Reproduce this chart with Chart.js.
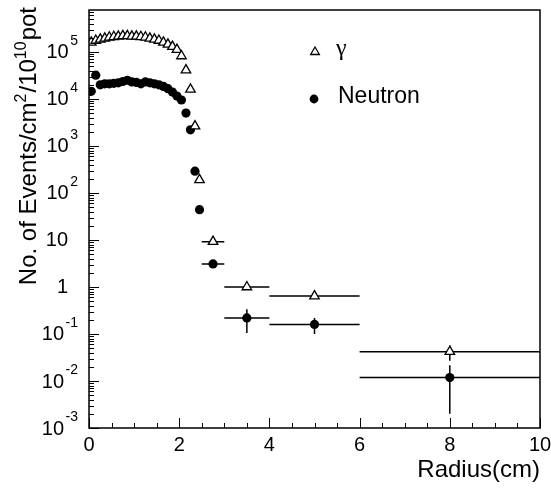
<!DOCTYPE html>
<html>
<head>
<meta charset="utf-8">
<script src="https://cdn.jsdelivr.net/npm/chart.js@4.4.1/dist/chart.umd.min.js"></script>
<style>
  body { margin: 0; background: #fff; }
  canvas { display: block; }
</style>
</head>
<body>
<canvas id="radiusplot" width="551" height="488"></canvas>
<script>
// bin centres and half widths (cm)
const radius = [0.05, 0.15, 0.25, 0.35, 0.45, 0.55, 0.65, 0.75, 0.85, 0.95,
                1.05, 1.15, 1.25, 1.35, 1.45, 1.55, 1.65, 1.75, 1.85, 1.95,
                2.05, 2.15, 2.25, 2.35, 2.45, 2.75, 3.5, 5.0, 8.0];
const radiusHalfWidth = [0.05, 0.05, 0.05, 0.05, 0.05, 0.05, 0.05, 0.05, 0.05, 0.05,
                         0.05, 0.05, 0.05, 0.05, 0.05, 0.05, 0.05, 0.05, 0.05, 0.05,
                         0.05, 0.05, 0.05, 0.05, 0.05, 0.25, 0.5, 1.0, 2.0];

// events / cm2 / 1e10 pot
const gammaRate = [1.6e5, 1.75e5, 1.85e5, 1.95e5, 2.05e5, 2.1e5, 2.15e5, 2.2e5, 2.2e5, 2.15e5,
                   2.15e5, 2.1e5, 2.05e5, 1.95e5, 1.85e5, 1.75e5, 1.6e5, 1.45e5, 1.3e5, 1.12e5,
                   8.2e4, 4.1e4, 1.6e4, 2.65e3, 1.9e2, 9.2, 1.0, 0.64, 0.042];
const gammaErr = [0, 0, 0, 0, 0, 0, 0, 0, 0, 0,
                  0, 0, 0, 0, 0, 0, 0, 0, 0, 0,
                  0, 0, 0, 0, 0, 0.6, 0.1, 0.05, 0.015];
const neutronRate = [1.45e4, 3.2e4, 2.0e4, 2.1e4, 2.1e4, 2.15e4, 2.2e4, 2.35e4, 2.5e4, 2.3e4,
                     2.25e4, 2.1e4, 2.3e4, 2.2e4, 2.1e4, 2.0e4, 1.85e4, 1.65e4, 1.4e4, 1.15e4,
                     9.5e3, 5.0e3, 2.2e3, 2.9e2, 44, 3.1, 0.22, 0.16, 0.0118];
const neutronErr = [0, 0, 0, 0, 0, 0, 0, 0, 0, 0,
                    0, 0, 0, 0, 0, 0, 0, 0, 0, 0,
                    0, 0, 0, 0, 0, 0.5, 0.115, 0.06, 0.0098];

const xTickLabels = [0, 2, 4, 6, 8, 10];
const yTickPowers = [5, 4, 3, 2, 1, 0, -1, -2, -3];

const font = '"Liberation Sans", Arial, sans-serif';

function points(rates, errs) {
  return radius.map((r, i) => ({ x: r, y: rates[i], xe: radiusHalfWidth[i], ye: errs[i] }));
}

// ROOT-like frame, inner ticks, 10^n labels and error bars
const rootStyle = {
  id: 'rootStyle',
  beforeDatasetsDraw(chart) {
    const ctx = chart.ctx, xs = chart.scales.x, ys = chart.scales.y;
    ctx.save();
    ctx.strokeStyle = '#000';
    ctx.lineWidth = 1.5;
    chart.data.datasets.forEach(ds => {
      ds.data.forEach(p => {
        const px = xs.getPixelForValue(p.x), py = ys.getPixelForValue(p.y);
        ctx.beginPath();
        ctx.moveTo(xs.getPixelForValue(p.x - p.xe), py);
        ctx.lineTo(xs.getPixelForValue(p.x + p.xe), py);
        if (p.ye) {
          ctx.moveTo(px, ys.getPixelForValue(Math.max(p.y - p.ye, ys.min)));
          ctx.lineTo(px, ys.getPixelForValue(p.y + p.ye));
        }
        ctx.stroke();
      });
    });
    ctx.restore();
  },
  afterDraw(chart) {
    const ctx = chart.ctx, xs = chart.scales.x, ys = chart.scales.y, a = chart.chartArea;
    ctx.save();
    ctx.strokeStyle = '#000';
    ctx.fillStyle = '#000';

    // frame
    ctx.lineWidth = 1.5;
    ctx.strokeRect(a.left, a.top, a.right - a.left, a.bottom - a.top);

    // x ticks, inside
    ctx.lineWidth = 1;
    ctx.beginPath();
    for (let v = 0; v <= 10; v += 0.5) {
      const px = Math.round(xs.getPixelForValue(v)) + 0.5;
      const len = (v % 2 === 0) ? 10 : 5;
      ctx.moveTo(px, a.bottom);
      ctx.lineTo(px, a.bottom - len);
    }
    // y ticks, inside
    for (let p = -3; p <= 5; p++) {
      for (let k = 1; k <= 9; k++) {
        const v = k * Math.pow(10, p);
        if (v > ys.max) break;
        const py = Math.round(ys.getPixelForValue(v)) + 0.5;
        ctx.moveTo(a.left, py);
        ctx.lineTo(a.left + (k === 1 ? 10 : 5), py);
      }
    }
    ctx.stroke();

    // x labels
    ctx.font = '20px ' + font;
    ctx.textAlign = 'center';
    ctx.textBaseline = 'alphabetic';
    xTickLabels.forEach(v => ctx.fillText(String(v), xs.getPixelForValue(v), 451));

    // y labels
    yTickPowers.forEach(p => {
      const py = ys.getPixelForValue(Math.pow(10, p));
      ctx.textBaseline = 'middle';
      if (p === 0 || p === 1) {
        ctx.font = '20px ' + font;
        ctx.textAlign = 'right';
        ctx.fillText(p === 0 ? '1' : '10', 68, py + 1);
      } else {
        ctx.font = '14px ' + font;
        const exp = String(p);
        const ew = ctx.measureText(exp).width;
        ctx.textAlign = 'left';
        ctx.fillText(exp, 78 - ew, py - 11);
        ctx.font = '20px ' + font;
        ctx.textAlign = 'right';
        ctx.fillText('10', 78 - ew - 1.5, py + 1);
      }
    });

    // x title
    ctx.font = '24px ' + font;
    ctx.textAlign = 'right';
    ctx.textBaseline = 'alphabetic';
    ctx.fillText('Radius(cm)', a.right, 477);

    // y title with superscripts
    const parts = [['No. of Events/cm', 0], ['2', 1], ['/10', 0], ['10', 1], ['pot', 0]];
    const fontFor = sup => (sup ? '16px ' : '24px ') + font;
    let total = 0;
    parts.forEach(([t, sup]) => { ctx.font = fontFor(sup); total += ctx.measureText(t).width + (sup ? 1 : 0); });
    ctx.translate(36, 7);
    ctx.rotate(-Math.PI / 2);
    ctx.textAlign = 'left';
    let cx = -total;
    parts.forEach(([t, sup]) => {
      ctx.font = fontFor(sup);
      ctx.fillText(t, cx, sup ? -10 : 0);
      cx += ctx.measureText(t).width + (sup ? 1 : 0);
    });
    ctx.setTransform(1, 0, 0, 1, 0, 0);

    // legend
    ctx.lineWidth = 1.3;
    ctx.beginPath();
    const tx = 315, ty = 52, r = 5;
    ctx.moveTo(tx, ty - r);
    ctx.lineTo(tx + r * 0.866, ty + r * 0.5);
    ctx.lineTo(tx - r * 0.866, ty + r * 0.5);
    ctx.closePath();
    ctx.stroke();
    ctx.beginPath();
    ctx.arc(314, 99, 4.4, 0, Math.PI * 2);
    ctx.fill();
    ctx.textAlign = 'left';
    ctx.textBaseline = 'middle';
    ctx.font = '24px "Liberation Serif", serif';
    ctx.fillText('\u03b3', 336, 49);
    ctx.font = '23px ' + font;
    ctx.fillText('Neutron', 338, 97);
    ctx.restore();
  }
};

const ctx = document.getElementById('radiusplot').getContext('2d');
const radiusChart = new Chart(ctx, {
  type: 'scatter',
  data: {
    datasets: [{
      label: 'gamma',
      data: points(gammaRate, gammaErr),
      pointStyle: 'triangle',
      pointRadius: 5.5,
      backgroundColor: '#fff',
      borderColor: '#000',
      borderWidth: 1.3
    }, {
      label: 'Neutron',
      data: points(neutronRate, neutronErr),
      pointStyle: 'circle',
      pointRadius: 4.6,
      backgroundColor: '#000',
      borderColor: '#000',
      borderWidth: 0
    }]
  },
  options: {
    responsive: false,
    animation: false,
    layout: { padding: { left: 89, right: 11, top: 10, bottom: 60 } },
    plugins: { legend: { display: false }, tooltip: { enabled: false } },
    scales: {
      x: { type: 'linear', min: 0, max: 10, display: false },
      y: { type: 'logarithmic', min: 1e-3, max: 7.8e5, display: false }
    }
  },
  plugins: [rootStyle]
});
</script>
</body>
</html>
